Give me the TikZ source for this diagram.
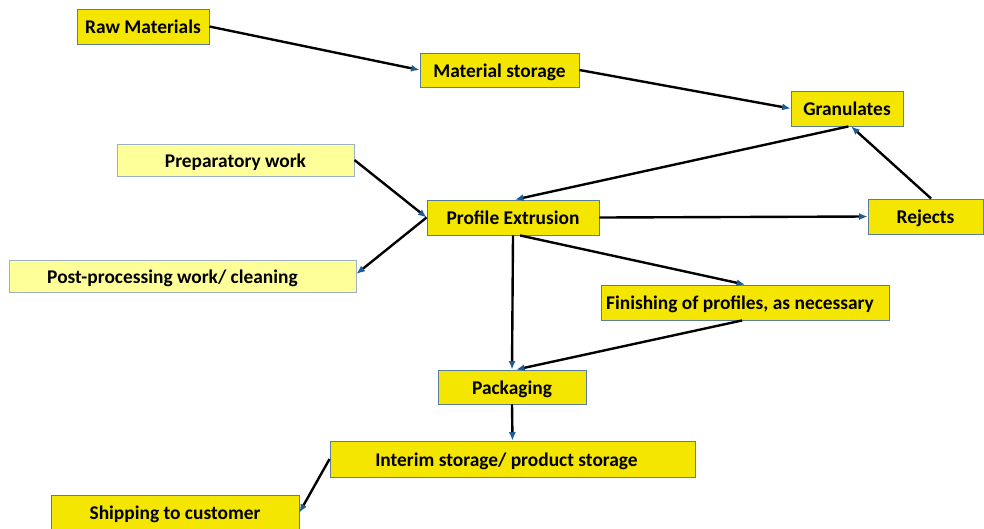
\documentclass[tikz,border=0pt]{standalone}
\usepackage{fontspec}
\setmainfont{Carlito}
\usetikzlibrary{arrows.meta}
\definecolor{boxyellow}{RGB}{245,230,0}
\definecolor{paleyellow}{RGB}{255,255,153}
\definecolor{boxedge}{RGB}{90,125,155}
\definecolor{tipblue}{RGB}{30,90,150}
\tikzset{
    stage/.style={draw=boxedge,line width=0.6pt,fill=boxyellow,inner sep=0pt,
        text height=13pt,text depth=3pt,
        font=\fontsize{13.8}{16}\selectfont\bfseries,text=black},
    sidework/.style={stage,fill=paleyellow,draw=boxedge!60},
    flow/.style={line width=1.7pt,-{Latex[length=6pt,width=5pt,color=tipblue]}}
}
\begin{document}
\begin{tikzpicture}[x=0.025cm,y=-0.025cm]
        \useasboundingbox (0,0) rectangle (984,528);
        \node[stage,minimum width=3.3cm,minimum height=0.875cm] (raw) at (143,26.5) {Raw Materials};
        \node[stage,minimum width=3.975cm,minimum height=0.85cm] (mstore) at (499.5,70) {Material storage};
        \node[stage,minimum width=2.8cm,minimum height=0.875cm] (gran) at (847,108.5) {Granulates};
        \node[sidework,minimum width=5.925cm,minimum height=0.8cm] (prep) at (235.5,160) {Preparatory work};
        \node[stage,minimum width=4.3cm,minimum height=0.875cm] (extr) at (513,217.5) {Profile Extrusion};
        \node[stage,minimum width=2.875cm,minimum height=0.875cm] (rej) at (925.5,216.5) {Rejects};
        \node[sidework,minimum width=8.675cm,minimum height=0.8cm] (post) at (182.5,276) {\hspace*{-0.5cm}Post-processing work/ cleaning};
        \node[stage,minimum width=7.2cm,minimum height=0.875cm] (finish) at (745,302.5) {\hspace*{-0.25cm}Finishing of profiles, as necessary};
        \node[stage,minimum width=3.7cm,minimum height=0.85cm] (pack) at (512,387) {Packaging};
        \node[stage,minimum width=9.125cm,minimum height=0.9cm] (interim) at (512.5,459) {\hspace*{-0.3cm}Interim storage/ product storage};
        \node[stage,minimum width=6.2cm,minimum height=0.875cm] (ship) at (175,512.5) {Shipping to customer};
        \draw[flow] (raw.east) -- (mstore.west);
        \draw[flow] (mstore.east) -- (gran.west);
        \draw[flow] ([xshift=1pt]gran.south) -- ([xshift=1.5pt]extr.north);
        \draw[flow] ([xshift=4pt]rej.north) -- ([xshift=3pt]gran.south);
        \draw[flow] (extr.east) -- (rej.west);
        \draw[flow] (prep.east) -- (extr.west);
        \draw[flow] (extr.west) -- ([yshift=1.5pt]post.east);
        \draw[flow] ([xshift=5pt]extr.south) -- (finish.north);
        \draw[flow] (extr.south) -- (pack.north);
        \draw[flow] ([xshift=-2pt]finish.south) -- ([xshift=3pt]pack.north);
        \draw[flow] (pack.south) -- (interim.north);
        \draw[flow] (interim.west) -- (ship.east);
\end{tikzpicture}
\end{document}
